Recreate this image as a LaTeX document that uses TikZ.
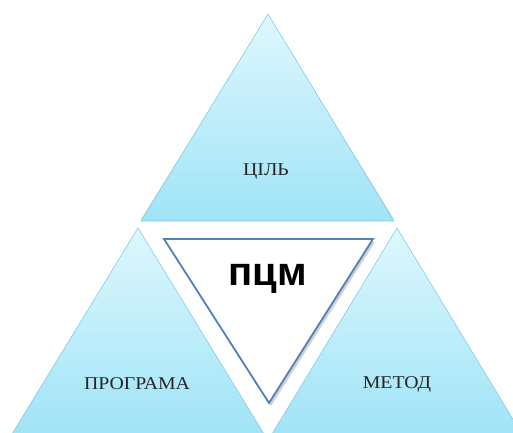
\documentclass[tikz,border=0pt]{standalone}
\usepackage{fontspec}
\setmainfont{Liberation Serif}
\newfontfamily\lblfont[FakeStretch=1.1]{Liberation Serif}
\newfontfamily\keyfont{Liberation Sans}
\usetikzlibrary{positioning}
\definecolor{tritop}{RGB}{222,247,253}
\definecolor{tribot}{RGB}{160,228,247}
\definecolor{triline}{RGB}{130,205,228}
\definecolor{coreline}{RGB}{79,129,189}

\begin{document}
\begin{tikzpicture}[x=1pt, y=-1pt,
  tri/.style={top color=tritop, bottom color=tribot, draw=triline, line width=0.6pt},
  core/.style={fill=white, draw=coreline, line width=1.8pt, line join=miter},
  lbl/.style={font=\lblfont\fontsize{18}{20}\selectfont, text=black!85},
  every node/.style={inner sep=0pt}
]
\clip (0,0) rectangle (513,432);

% Top triangle
\coordinate (ta) at (268,14);
\coordinate (tl) at (141,221);
\coordinate (tr) at (394,221);
\fill[black!12] ([yshift=2]tl) -- ([yshift=2]tr) -- ([yshift=-2]ta) -- cycle;
\shade[tri] (ta) -- (tl) -- (tr) -- cycle;

% Left triangle
\coordinate (la) at (138,228);
\coordinate (ll) at (12,434);
\coordinate (lr) at (264,434);
\shade[tri] (la) -- (ll) -- (lr) -- cycle;

% Right triangle
\coordinate (ra) at (397,228);
\coordinate (rl) at (272,434);
\coordinate (rr) at (522,434);
\shade[tri] (ra) -- (rl) -- (rr) -- cycle;

% Centre
\coordinate (cl) at (164,239);
\coordinate (cr) at (373,239);
\coordinate (cb) at (269,403);
\fill[black!18] ([shift={(2,3)}]cl) -- ([shift={(2,3)}]cr) -- ([shift={(2,3)}]cb) -- cycle;
\draw[core] (cl) -- (cr) -- (cb) -- cycle;

% Labels
\node[lbl] (goal) at (266,172) {ЦІЛЬ};
\node[lbl] (prog) at (137,384) {ПРОГРАМА};
\node[lbl] (meth) at (397,384) {МЕТОД};
\node[font=\keyfont\bfseries\fontsize{40}{44}\selectfont] (pcm) at (268,279) {пцм};
\end{tikzpicture}
\end{document}
